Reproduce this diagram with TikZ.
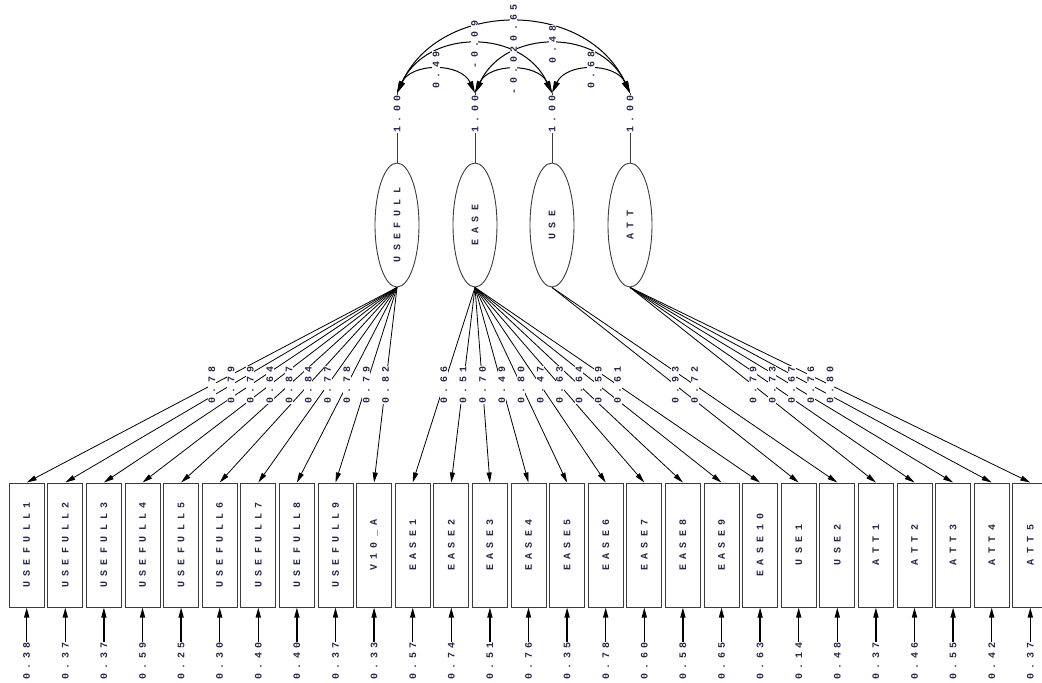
\documentclass[tikz,border=0pt]{standalone}
\usepackage{fontspec}
\usepackage{graphicx}
\usetikzlibrary{shapes.geometric,arrows.meta}
\newfontfamily\lblfont{Liberation Mono}
\definecolor{txt}{RGB}{40,40,75}
\definecolor{edge}{RGB}{60,60,60}
\makeatletter
\newcommand\spacedtext[2]{\def\sp@sep{}\expandafter\@tfor\expandafter\sp@ch\expandafter:\expandafter=#2\do{\sp@sep\sp@ch\def\sp@sep{\kern#1\relax}}}
\makeatother
\newcommand\spn[1]{\spacedtext{5.4pt}{#1}}
\newcommand\sps[1]{\spacedtext{4.4pt}{#1}}
\begin{document}
\begin{tikzpicture}[x=1pt,y=1pt,
  lblf/.style={font=\lblfont\bfseries\fontsize{10}{11}\selectfont, text=txt},
  obs/.style={draw=edge, line width=1pt, minimum width=35pt, minimum height=124pt, inner sep=0pt, lblf},
  lat/.style={ellipse, draw=edge, line width=0.9pt, minimum width=44pt, minimum height=124pt, inner sep=0pt, lblf},
  lbl/.style={rotate=90, fill=white, inner sep=0.6pt, lblf},
  load/.style={-{Triangle[length=10pt,width=5pt]}, line width=0.8pt},
  resarr/.style={-{Triangle[length=10pt,width=5pt]}, line width=1.4pt},
  covarr/.style={{Triangle[length=12pt,width=6pt]}-{Triangle[length=12pt,width=6pt]}, line width=1pt},
  varline/.style={line width=0.9pt, draw=edge}]
\clip (0,0) rectangle (1042,-683);
% latent variables
\node[lat] (USEFULL) at (397,-225) {\rotatebox{90}{\spn{USEFULL}}};
\node[lat] (EASE) at (475,-225) {\rotatebox{90}{\spn{EASE}}};
\node[lat] (USE) at (552,-225) {\rotatebox{90}{\spn{USE}}};
\node[lat] (ATT) at (630,-225) {\rotatebox{90}{\spn{ATT}}};
\coordinate (t1) at (397,-93);
\coordinate (t2) at (475,-93);
\coordinate (t3) at (552,-93);
\coordinate (t4) at (630,-93);
\draw[varline] (USEFULL.north) -- (t1);
\draw[varline] (EASE.north) -- (t2);
\draw[varline] (USE.north) -- (t3);
\draw[varline] (ATT.north) -- (t4);
\node[lbl] (v1) at (397,-114) {\sps{1.00}};
\node[lbl] (v2) at (475,-114) {\sps{1.00}};
\node[lbl] (v3) at (552,-114) {\sps{1.00}};
\node[lbl] (v4) at (630,-114) {\sps{1.00}};
% covariances
\draw[covarr] (t1) to[out=65,in=115,looseness=1.14] (t4);
\draw[covarr] (t1) to[out=65,in=115,looseness=1.18] (t3);
\draw[covarr] (t2) to[out=65,in=115,looseness=1.18] (t4);
\draw[covarr] (t1) to[out=65,in=115,looseness=1.11] (t2);
\draw[covarr] (t2) to[out=65,in=115,looseness=1.11] (t3);
\draw[covarr] (t3) to[out=65,in=115,looseness=1.11] (t4);
\path (t1) to[out=65,in=115,looseness=1.14] node[lbl] (c14) {\sps{0.65}} (t4);
\path (t1) to[out=65,in=115,looseness=1.18] node[lbl] (c13) {\sps{-0.09}} (t3);
\path (t2) to[out=65,in=115,looseness=1.18] node[lbl] (c24) {\sps{0.48}} (t4);
\path (t1) to[out=65,in=115,looseness=1.11] node[lbl] (c12) {\sps{0.49}} (t2);
\path (t2) to[out=65,in=115,looseness=1.11] node[lbl] (c23) {\sps{-0.02}} (t3);
\path (t3) to[out=65,in=115,looseness=1.11] node[lbl] (c34) {\sps{0.68}} (t4);
% observed variables and residuals
\foreach \i/\nm/\res in {0/USEFULL1/0.38, 1/USEFULL2/0.37, 2/USEFULL3/0.37, 3/USEFULL4/0.59, 4/USEFULL5/0.25, 5/USEFULL6/0.30, 6/USEFULL7/0.40, 7/USEFULL8/0.40, 8/USEFULL9/0.37, 9/V10\_A/0.33, 10/EASE1/0.57, 11/EASE2/0.74, 12/EASE3/0.51, 13/EASE4/0.76, 14/EASE5/0.35, 15/EASE6/0.78, 16/EASE7/0.60, 17/EASE8/0.58, 18/EASE9/0.65, 19/EASE10/0.63, 20/USE1/0.14, 21/USE2/0.48, 22/ATT1/0.37, 23/ATT2/0.46, 24/ATT3/0.55, 25/ATT4/0.42, 26/ATT5/0.37}{
  \node[obs] (m\i) at ({26.7+38.6*\i},-545) {\rotatebox{90}{\spn{\nm}}};
  \node[lbl] (r\i) at ({26.7+38.6*\i},-661) {\sps{\res}};
  \draw[resarr] (r\i.east) -- (m\i.south);
}
% loadings
\foreach \i/\l in {0/USEFULL, 1/USEFULL, 2/USEFULL, 3/USEFULL, 4/USEFULL, 5/USEFULL, 6/USEFULL, 7/USEFULL, 8/USEFULL, 9/USEFULL, 10/EASE, 11/EASE, 12/EASE, 13/EASE, 14/EASE, 15/EASE, 16/EASE, 17/EASE, 18/EASE, 19/EASE, 20/USE, 21/USE, 22/ATT, 23/ATT, 24/ATT, 25/ATT, 26/ATT}{
  \draw[load] (\l.south) -- (m\i.north);
}
\foreach \i/\l/\v in {0/USEFULL/0.78, 1/USEFULL/0.79, 2/USEFULL/0.79, 3/USEFULL/0.64, 4/USEFULL/0.87, 5/USEFULL/0.84, 6/USEFULL/0.77, 7/USEFULL/0.78, 8/USEFULL/0.79, 9/USEFULL/0.82, 10/EASE/0.66, 11/EASE/0.51, 12/EASE/0.70, 13/EASE/0.49, 14/EASE/0.80, 15/EASE/0.47, 16/EASE/0.63, 17/EASE/0.64, 18/EASE/0.59, 19/EASE/0.61, 20/USE/0.93, 21/USE/0.72, 22/ATT/0.79, 23/ATT/0.73, 24/ATT/0.67, 25/ATT/0.76, 26/ATT/0.80}{
  \path (\l.south) -- node[lbl] (w\i) {\sps{\v}} (m\i.north);
}
\end{tikzpicture}
\end{document}
